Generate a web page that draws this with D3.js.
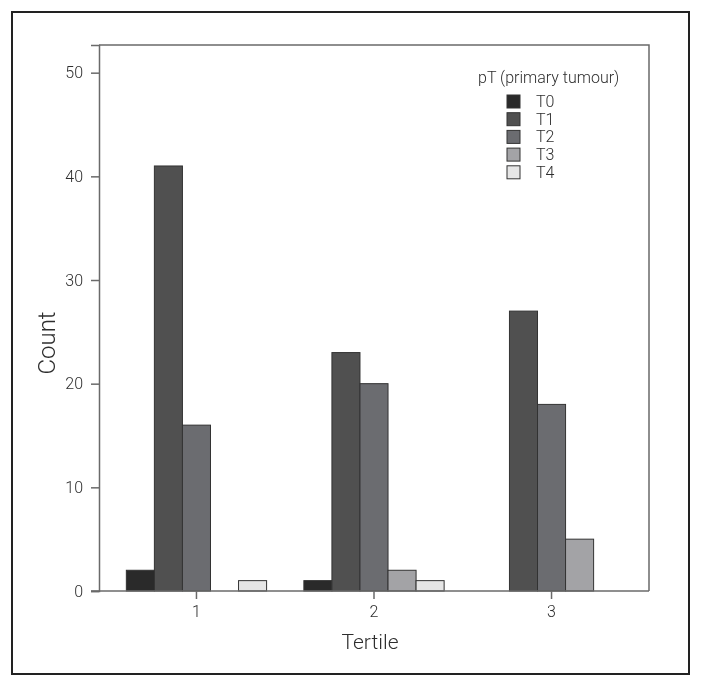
<!DOCTYPE html>
<html>
<head>
<meta charset="utf-8">
<script src="https://cdn.jsdelivr.net/npm/d3@7"></script>
<style>
  html, body { margin: 0; padding: 0; background: #fff; }
  svg { will-change: transform; }
  svg text { font-family: Roboto, "Liberation Sans", sans-serif; font-weight: 300; fill: #2e2e2e; }
</style>
</head>
<body>
<svg id="chart" width="702" height="688"></svg>
<script>
const tertiles = ["1", "2", "3"];
const stages = ["T0", "T1", "T2", "T3", "T4"];
const countsT0 = [2, 1, 0];
const countsT1 = [41, 23, 27];
const countsT2 = [16, 20, 18];
const countsT3 = [0, 2, 5];
const countsT4 = [1, 1, 0];
const yTicks = [0, 10, 20, 30, 40, 50];
const stageColors = ["#2a2a2a", "#505050", "#6b6c70", "#a3a3a6", "#e6e6e6"];
const legendTitle = "pT (primary tumour)";
const xTitle = "Tertile";
const yTitle = "Count";

const seriesValues = [countsT0, countsT1, countsT2, countsT3, countsT4];
const data = [];
tertiles.forEach((t, i) => {
  stages.forEach((s, j) => {
    data.push({ tertile: t, stage: s, value: seriesValues[j][i] });
  });
});

const svg = d3.select("#chart");
const plot = { left: 99, right: 649, top: 45, bottom: 591 };

// outer frame
svg.append("rect")
  .attr("x", 12).attr("y", 12)
  .attr("width", 677).attr("height", 662)
  .attr("fill", "none").attr("stroke", "#222").attr("stroke-width", 2);

const x = d3.scaleBand().domain(tertiles)
  .range([plot.left, plot.right]).paddingInner(0.21).paddingOuter(0.154);
const xs = d3.scaleBand().domain(stages).range([0, x.bandwidth()]);
const y = d3.scaleLinear().domain([0, 52.67]).range([plot.bottom, plot.top]);
const color = d3.scaleOrdinal().domain(stages).range(stageColors);

// bars
svg.append("g").selectAll("rect")
  .data(data.filter(d => d.value > 0))
  .join("rect")
  .attr("x", d => x(d.tertile) + xs(d.stage))
  .attr("y", d => y(d.value))
  .attr("width", xs.bandwidth())
  .attr("height", d => y(0) - y(d.value))
  .attr("fill", d => color(d.stage))
  .attr("stroke", "#333")
  .attr("stroke-width", 1);

// plot frame (top and right)
svg.append("path")
  .attr("d", `M${plot.left},${plot.top}H${plot.right}V${plot.bottom}`)
  .attr("fill", "none").attr("stroke", "#6a6a6a").attr("stroke-width", 1.5);

// axes
const yAxis = svg.append("g")
  .attr("transform", `translate(${plot.left},0)`)
  .call(d3.axisLeft(y).tickValues(yTicks).tickSize(8).tickPadding(8));
const xAxis = svg.append("g")
  .attr("transform", `translate(0,${plot.bottom})`)
  .call(d3.axisBottom(x).tickSize(8).tickPadding(7));

[yAxis, xAxis].forEach(a => {
  a.select(".domain").attr("fill", "none").attr("stroke", "#6a6a6a").attr("stroke-width", 1.5);
  a.selectAll(".tick line").attr("stroke", "#6a6a6a").attr("stroke-width", 1.5);
  a.selectAll(".tick text").attr("fill", null).style("font-size", "16px").style("fill", "#2e2e2e");
});
// extend x-axis baseline to the left like the reference
xAxis.select(".domain").attr("d", `M${plot.left - 8},0H${plot.right}`);

// axis titles
svg.append("text")
  .attr("transform", `translate(55,343) rotate(-90)`)
  .attr("text-anchor", "middle")
  .style("font-size", "24px")
  .text(yTitle);
svg.append("text")
  .attr("x", (plot.left + plot.right) / 2 - 4)
  .attr("y", 649)
  .attr("text-anchor", "middle")
  .style("font-size", "21px")
  .text(xTitle);

// legend
const legend = svg.append("g").attr("transform", "translate(478,0)");
legend.append("text")
  .attr("x", 0).attr("y", 83)
  .style("font-size", "16px")
  .text(legendTitle);
const items = legend.selectAll("g.item")
  .data(stages)
  .join("g")
  .attr("class", "item")
  .attr("transform", (d, i) => `translate(29,${95 + i * 17.7})`);
items.append("rect")
  .attr("width", 13).attr("height", 13)
  .attr("fill", d => color(d))
  .attr("stroke", "#333").attr("stroke-width", 1);
items.append("text")
  .attr("x", 29).attr("y", 12)
  .style("font-size", "16px")
  .text(d => d);
</script>
</body>
</html>
